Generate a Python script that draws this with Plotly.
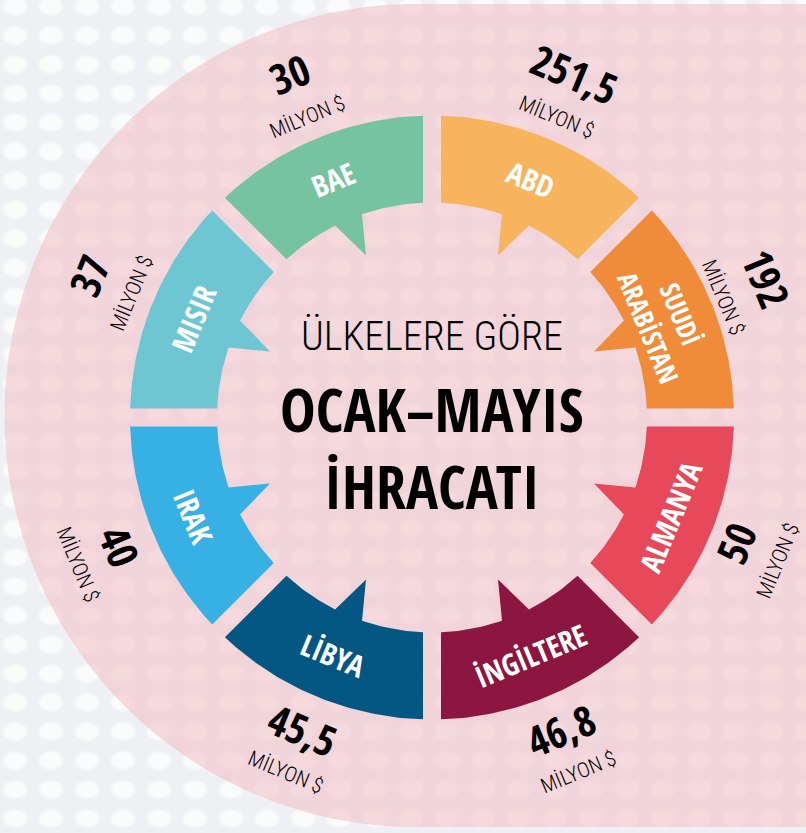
import base64
import math
import numpy as np
import plotly.graph_objects as go

# ---------------- data ----------------
countries = ["ABD", "SUUDİ<br>ARABİSTAN", "ALMANYA", "İNGİLTERE", "LİBYA", "IRAK", "MISIR", "BAE"]
values = [251.5, 192, 50, 46.8, 45.5, 40, 37, 30]
unit_label = "MİLYON $"
colors = ["#F7B45C", "#F08B3A", "#E8495A", "#8C1640", "#045683", "#37B1E3", "#6FC6D3", "#76C3A2"]
title_lines = ["ÜLKELERE GÖRE", "OCAK–MAYIS", "İHRACATI"]

# ---------------- geometry / style ----------------
W, H = 806, 833
CX, CY = 432, 417.5
R_IN, R_OUT = 215, 302
GAP = 9
TIP = (66, 162)
B1_ANG, B2_ANG = 19.0, 26.8
# symmetry (x,y)->(a x + b y, c x + d y) for each of the eight segments
SYM = [(1, 0, 0, 1), (0, 1, 1, 0), (0, 1, -1, 0), (1, 0, 0, -1),
       (-1, 0, 0, -1), (0, -1, -1, 0), (0, -1, 1, 0), (-1, 0, 0, 1)]
COND = "Open Sans Condensed, Roboto Condensed, DejaVu Sans Condensed, sans-serif"
LIGHT = "Roboto Condensed, Open Sans Condensed, DejaVu Sans Condensed, sans-serif"
BG = "#EEF0F3"


def canonical_segment():
    pts = []
    a0 = math.asin(GAP / R_OUT)
    t = math.sqrt(R_OUT ** 2 - GAP ** 2)
    p = ((t - GAP) / math.sqrt(2), (t + GAP) / math.sqrt(2))
    a1 = math.atan2(p[0], p[1])
    for a in np.linspace(a0, a1, 60):
        pts.append((R_OUT * math.sin(a), R_OUT * math.cos(a)))
    t = math.sqrt(R_IN ** 2 - GAP ** 2)
    q = ((t - GAP) / math.sqrt(2), (t + GAP) / math.sqrt(2))
    a2 = math.atan2(q[0], q[1])
    for a in np.linspace(a2, math.radians(B2_ANG), 20):
        pts.append((R_IN * math.sin(a), R_IN * math.cos(a)))
    pts.append(TIP)
    for a in np.linspace(math.radians(B1_ANG), math.asin(GAP / R_IN), 20):
        pts.append((R_IN * math.sin(a), R_IN * math.cos(a)))
    pts.append(pts[0])
    return pts


def polar(r, deg):
    a = math.radians(deg)
    return CX + r * math.sin(a), CY - r * math.cos(a)


fig = go.Figure()
base = canonical_segment()
for i, (name, val, col) in enumerate(zip(countries, values, colors)):
    a, b, c, d = SYM[i]
    xs = [CX + (a * x + b * y) for x, y in base]
    ys = [CY - (c * x + d * y) for x, y in base]
    fig.add_trace(go.Scatter(
        x=xs, y=ys, mode="lines", fill="toself", fillcolor=col,
        line=dict(width=0, color=col), hoveron="fills",
        text=f"{name.replace('<br>', ' ')}: {str(val).replace('.', ',')} milyon $",
        hoverinfo="text", name=name.replace('<br>', ' ')))

annotations = []
for i, (name, val) in enumerate(zip(countries, values)):
    mid = 22.5 + 45 * i
    top = math.cos(math.radians(mid)) > 0
    ang = mid if top else mid - 180
    if ang > 180:
        ang -= 360
    two_line = "<br>" in name
    x, y = polar(252 if two_line else 258, mid)
    annotations.append(dict(x=x, y=y, text=name, showarrow=False, textangle=ang,
                            font=dict(family=COND, size=27 if two_line else 30,
                                      color="white", weight="bold"),
                            xanchor="center", yanchor="middle"))
    num_txt = (f"{val:g}").replace(".", ",")
    rn, ru = (372, 325) if top else (338, 384)
    if i in (1, 2):  # right edge: keep inside the frame
        rn, ru = rn - 10, ru - 10
    x, y = polar(rn, mid)
    annotations.append(dict(x=x, y=y, text=num_txt, showarrow=False, textangle=ang,
                            font=dict(family=COND, size=42, color="black", weight="bold"),
                            xanchor="center", yanchor="middle"))
    x, y = polar(ru, mid)
    annotations.append(dict(x=x, y=y, text=unit_label, showarrow=False, textangle=ang,
                            font=dict(family=LIGHT, size=21, color="black", weight=300),
                            xanchor="center", yanchor="middle"))

annotations.append(dict(x=CX, y=336, text=title_lines[0], showarrow=False,
                        font=dict(family=LIGHT, size=40, color="black", weight=300),
                        xanchor="center", yanchor="middle"))
annotations.append(dict(x=CX, y=409, text=title_lines[1], showarrow=False,
                        font=dict(family=COND, size=60, color="black", weight="bold"),
                        xanchor="center", yanchor="middle"))
annotations.append(dict(x=CX, y=486, text=title_lines[2], showarrow=False,
                        font=dict(family=COND, size=60, color="black", weight="bold"),
                        xanchor="center", yanchor="middle"))

# background pink stadium (left half-disk + rectangle)
PX, PY, PR = 416, 415.5, 411.5
path_pts = []
for a in np.linspace(math.pi / 2, 3 * math.pi / 2, 120):
    path_pts.append((PX + PR * math.cos(a), PY - PR * math.sin(a)))
path = "M " + " L ".join(f"{x:.1f},{y:.1f}" for x, y in path_pts)
path += f" L {W + 20},{PY + PR:.1f} L {W + 20},{PY - PR:.1f} Z"
shapes = [dict(type="path", path=path, xref="x", yref="y", fillcolor="rgb(242,189,196)",
               opacity=0.55, line=dict(width=0), layer="below")]

# dotted background pattern
svg = (f'<svg xmlns="http://www.w3.org/2000/svg" width="{W}" height="{H}">'
       '<defs><filter id="b"><feGaussianBlur stdDeviation="1.2"/></filter>'
       '<pattern id="p" x="-3" y="-8" width="36" height="29" patternUnits="userSpaceOnUse">'
       '<ellipse cx="18" cy="14.5" rx="12" ry="9" fill="white" fill-opacity="0.7" filter="url(#b)"/>'
       '</pattern></defs><rect width="100%" height="100%" fill="url(#p)"/></svg>')
src = "data:image/svg+xml;base64," + base64.b64encode(svg.encode()).decode()

fig.update_layout(
    width=W, height=H, margin=dict(l=0, r=0, t=0, b=0),
    paper_bgcolor=BG, plot_bgcolor="rgba(0,0,0,0)", showlegend=False,
    xaxis=dict(range=[0, W], visible=False, fixedrange=True),
    yaxis=dict(range=[H, 0], visible=False, fixedrange=True),
    annotations=annotations, shapes=shapes,
    images=[dict(source=src, xref="paper", yref="paper", x=0, y=1, sizex=1, sizey=1,
                 sizing="stretch", xanchor="left", yanchor="top", layer="below")],
)
fig.write_html("out.html", config={"displayModeBar": False},
               post_script="document.body.style.margin='0';document.body.style.overflow='hidden';"
                           "document.body.style.background='%s';" % BG)
